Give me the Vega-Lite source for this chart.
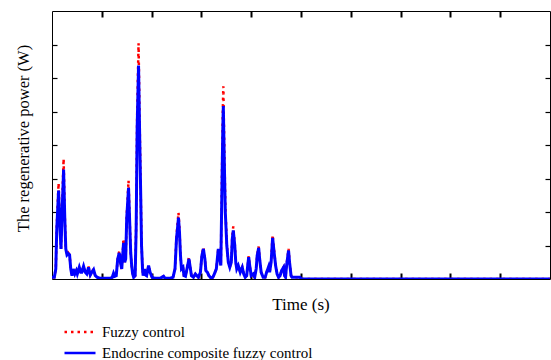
{
  "$schema": "https://vega.github.io/schema/vega-lite/v6.json",
  "width": 498,
  "height": 268,
  "autosize": "none",
  "padding": {"left": 52, "top": 11, "right": 1, "bottom": 81},
  "background": "white",
  "config": {
    "view": {"stroke": "black", "strokeWidth": 1},
    "font": "Liberation Serif",
    "legend": {"labelFont": "Liberation Serif", "labelFontSize": 15, "labelColor": "black", "labelLimit": 500},
    "axis": {"labels": false, "grid": false, "tickSize": 5, "offset": -5, "tickColor": "black", "tickWidth": 1.2, "tickOpacity": 1, "domain": false, "titleFont": "Liberation Serif", "titleFontSize": 17, "titleFontWeight": "normal", "titleColor": "black"},
    "axisX": {"ticks": true, "tickSize": 6, "tickColor": "#000000", "tickWidth": 2, "tickOpacity": 1, "offset": -6}
  },
  "data": {"values": [
    {"t":0,"e":0.05,"f":0.05},{"t":4.6,"e":0.05,"f":0.05},{"t":7.6,"e":0.3,"f":0.3},{"t":9.6,"e":1.5,"f":1.6},{"t":13.2,"e":2.64,"f":2.86},{"t":15.7,"e":1.6,"f":1.7},{"t":18.1,"e":0.9,"f":0.9},{"t":20.3,"e":2.0,"f":2.2},{"t":23.3,"e":3.27,"f":3.59},{"t":25.7,"e":1.8,"f":1.9},{"t":27.7,"e":0.9,"f":0.9},{"t":30.1,"e":0.72,"f":0.72},{"t":32.7,"e":0.76,"f":0.78},{"t":35.3,"e":0.72,"f":0.72},{"t":37.7,"e":0.3,"f":0.3},{"t":40.1,"e":0.1,"f":0.1},{"t":42.7,"e":0.3,"f":0.3},{"t":45.8,"e":0.15,"f":0.15},{"t":48.8,"e":0.25,"f":0.25},{"t":50.8,"e":0.15,"f":0.15},{"t":54.8,"e":0.35,"f":0.35},{"t":57.8,"e":0.2,"f":0.2},{"t":59.8,"e":0.2,"f":0.2},{"t":63.4,"e":0.38,"f":0.38},{"t":66.8,"e":0.2,"f":0.2},{"t":69.8,"e":0.15,"f":0.15},{"t":73.4,"e":0.35,"f":0.37},{"t":76.9,"e":0.12,"f":0.12},{"t":79.9,"e":0.2,"f":0.2},{"t":83.5,"e":0.28,"f":0.3},{"t":86.9,"e":0.1,"f":0.1},{"t":90.9,"e":0.05,"f":0.05},{"t":96.9,"e":0.02,"f":0.02},{"t":107,"e":0.02,"f":0.02},{"t":117,"e":0.02,"f":0.02},{"t":121,"e":0.05,"f":0.05},{"t":123.6,"e":0.17,"f":0.17},{"t":126,"e":0.08,"f":0.08},{"t":129,"e":0.1,"f":0.1},{"t":132,"e":0.6,"f":0.6},{"t":135,"e":0.78,"f":0.82},{"t":138,"e":0.45,"f":0.45},{"t":140,"e":0.3,"f":0.3},{"t":143.7,"e":1.08,"f":1.2},{"t":146,"e":0.5,"f":0.5},{"t":148,"e":0.6,"f":0.6},{"t":150,"e":1.8,"f":1.9},{"t":153.7,"e":2.72,"f":2.94},{"t":156,"e":1.7,"f":1.8},{"t":158,"e":0.8,"f":0.8},{"t":160,"e":0.4,"f":0.4},{"t":162,"e":0.15,"f":0.15},{"t":164,"e":0.05,"f":0.05},{"t":167,"e":0.1,"f":0.1},{"t":169,"e":1.5,"f":1.6},{"t":171,"e":4.5,"f":4.9},{"t":173.8,"e":6.37,"f":7.04},{"t":175.8,"e":4.5,"f":4.9},{"t":177.8,"e":2.8,"f":3.0},{"t":179.8,"e":1.0,"f":1.05},{"t":181.8,"e":0.3,"f":0.3},{"t":183,"e":0.1,"f":0.1},{"t":185.8,"e":0.3,"f":0.3},{"t":188,"e":0.12,"f":0.12},{"t":190,"e":0.1,"f":0.1},{"t":193.9,"e":0.4,"f":0.4},{"t":197,"e":0.2,"f":0.2},{"t":201,"e":0.05,"f":0.05},{"t":207,"e":0.02,"f":0.02},{"t":217,"e":0.02,"f":0.02},{"t":224,"e":0.08,"f":0.08},{"t":227,"e":0.02,"f":0.02},{"t":237,"e":0.02,"f":0.02},{"t":243,"e":0.05,"f":0.05},{"t":247,"e":0.3,"f":0.3},{"t":250,"e":1.2,"f":1.3},{"t":254,"e":1.83,"f":1.98},{"t":256,"e":1.4,"f":1.5},{"t":258,"e":0.7,"f":0.7},{"t":260,"e":0.3,"f":0.3},{"t":263,"e":0.35,"f":0.35},{"t":265,"e":0.1,"f":0.1},{"t":268,"e":0.08,"f":0.08},{"t":271,"e":0.3,"f":0.3},{"t":275,"e":0.6,"f":0.65},{"t":278,"e":0.3,"f":0.3},{"t":280,"e":0.1,"f":0.1},{"t":284,"e":0.05,"f":0.05},{"t":288,"e":0.15,"f":0.15},{"t":291,"e":0.1,"f":0.1},{"t":294,"e":0.05,"f":0.05},{"t":298,"e":0.2,"f":0.2},{"t":301,"e":0.7,"f":0.72},{"t":304,"e":0.9,"f":0.95},{"t":307,"e":0.6,"f":0.6},{"t":309,"e":0.25,"f":0.25},{"t":312,"e":0.2,"f":0.2},{"t":315,"e":0.1,"f":0.1},{"t":319,"e":0.03,"f":0.03},{"t":323,"e":0.05,"f":0.05},{"t":326,"e":0.15,"f":0.15},{"t":330,"e":0.3,"f":0.3},{"t":332,"e":0.6,"f":0.6},{"t":334,"e":0.9,"f":0.93},{"t":337,"e":0.6,"f":0.6},{"t":339,"e":0.4,"f":0.4},{"t":341,"e":2.5,"f":2.8},{"t":343,"e":4.5,"f":5.0},{"t":344,"e":5.16,"f":5.75},{"t":346,"e":3.5,"f":3.9},{"t":348,"e":2.0,"f":2.2},{"t":351,"e":1.0,"f":1.05},{"t":354,"e":0.5,"f":0.5},{"t":357,"e":0.35,"f":0.35},{"t":360,"e":0.5,"f":0.5},{"t":362,"e":1.2,"f":1.3},{"t":364,"e":1.45,"f":1.57},{"t":367,"e":1.0,"f":1.05},{"t":369,"e":0.5,"f":0.5},{"t":371,"e":0.3,"f":0.3},{"t":374,"e":0.4,"f":0.4},{"t":378,"e":0.2,"f":0.2},{"t":382,"e":0.35,"f":0.35},{"t":385,"e":0.15,"f":0.15},{"t":388,"e":0.05,"f":0.05},{"t":391,"e":0.1,"f":0.1},{"t":393,"e":0.4,"f":0.4},{"t":395,"e":0.65,"f":0.68},{"t":397,"e":0.4,"f":0.4},{"t":400,"e":0.1,"f":0.1},{"t":404,"e":0.15,"f":0.15},{"t":407,"e":0.05,"f":0.05},{"t":410,"e":0.3,"f":0.3},{"t":412,"e":0.7,"f":0.72},{"t":415,"e":0.93,"f":0.97},{"t":417,"e":0.6,"f":0.6},{"t":420,"e":0.2,"f":0.2},{"t":424,"e":0.05,"f":0.05},{"t":428,"e":0.05,"f":0.05},{"t":431,"e":0.2,"f":0.2},{"t":435,"e":0.37,"f":0.37},{"t":437,"e":0.2,"f":0.2},{"t":440,"e":0.5,"f":0.55},{"t":443,"e":1.23,"f":1.32},{"t":446,"e":0.8,"f":0.85},{"t":449,"e":0.4,"f":0.4},{"t":452,"e":0.15,"f":0.15},{"t":455,"e":0.05,"f":0.05},{"t":458,"e":0.1,"f":0.1},{"t":461,"e":0.25,"f":0.25},{"t":465,"e":0.35,"f":0.35},{"t":467,"e":0.1,"f":0.1},{"t":469,"e":0.05,"f":0.05},{"t":471,"e":0.4,"f":0.42},{"t":475,"e":0.85,"f":0.9},{"t":477,"e":0.5,"f":0.52},{"t":480,"e":0.1,"f":0.1},{"t":482,"e":0.05,"f":0.05},{"t":498,"e":0.05,"f":0.05},{"t":501,"e":0,"f":0},{"t":1000,"e":0,"f":0}
  ]},
  "transform": [{"fold": ["f", "e"], "as": ["series", "power"]}],
  "layer": [
    {
      "transform": [{"filter": "datum.series == 'f'"}],
      "mark": {"type": "line", "strokeWidth": 2.5, "clip": true},
      "encoding": {
        "x": {"field": "t", "type": "quantitative", "scale": {"domain": [0, 1000], "nice": false}, "axis": {"orient": "bottom", "values": [100,200,300,400,500,600,700,800,900], "title": "Time (s)", "titleX": 248.5, "titleY": 36.5, "titleBaseline": "alphabetic", "titleAlign": "center"}},
        "y": {"field": "power", "type": "quantitative", "scale": {"domain": [0, 8], "nice": false}, "axis": {"orient": "left", "values": [1,2,3,4,5,6,7], "title": "The regenerative power (W)", "titleX": -29, "titleY": 127, "titleAngle": -90, "titleBaseline": "alphabetic", "titleAlign": "center", "titleFontSize": 16.5}},
        "color": {"field": "series", "type": "nominal", "scale": {"domain": ["f", "e"], "range": ["#ff0000", "#0000ff"]}, "legend": {"orient": "none", "legendX": 11, "legendY": 313, "title": null, "symbolType": "stroke", "symbolSize": 961, "symbolStrokeWidth": 2.5, "clipHeight": 16, "rowPadding": 5, "labelFont": "Liberation Serif", "labelFontSize": 15, "labelColor": "black", "labelLimit": 500, "labelOffset": 5, "labelExpr": "datum.label == 'f' ? 'Fuzzy control' : 'Endocrine composite fuzzy control'"}},
        "strokeDash": {"field": "series", "type": "nominal", "scale": {"domain": ["f", "e"], "range": [[2.5, 4], [1, 0]]}, "legend": {"orient": "none", "legendX": 11, "legendY": 313, "title": null, "symbolType": "stroke", "symbolSize": 961, "symbolStrokeWidth": 2.5, "clipHeight": 16, "rowPadding": 5, "labelFont": "Liberation Serif", "labelFontSize": 15, "labelColor": "black", "labelLimit": 500, "labelOffset": 5, "labelExpr": "datum.label == 'f' ? 'Fuzzy control' : 'Endocrine composite fuzzy control'"}}
      }
    },
    {
      "transform": [{"filter": "datum.series == 'e'"}],
      "mark": {"type": "line", "strokeWidth": 3, "clip": true},
      "encoding": {
        "x": {"field": "t", "type": "quantitative", "scale": {"domain": [0, 1000], "nice": false}, "axis": {"orient": "top", "values": [100,200,300,400,500,600,700,800,900], "title": null}},
        "y": {"field": "power", "type": "quantitative", "scale": {"domain": [0, 8], "nice": false}, "axis": {"orient": "right", "values": [1,2,3,4,5,6,7], "title": null}},
        "color": {"field": "series", "type": "nominal"},
        "strokeDash": {"field": "series", "type": "nominal"}
      }
    }
  ],
  "resolve": {"axis": {"x": "independent", "y": "independent"}}
}
